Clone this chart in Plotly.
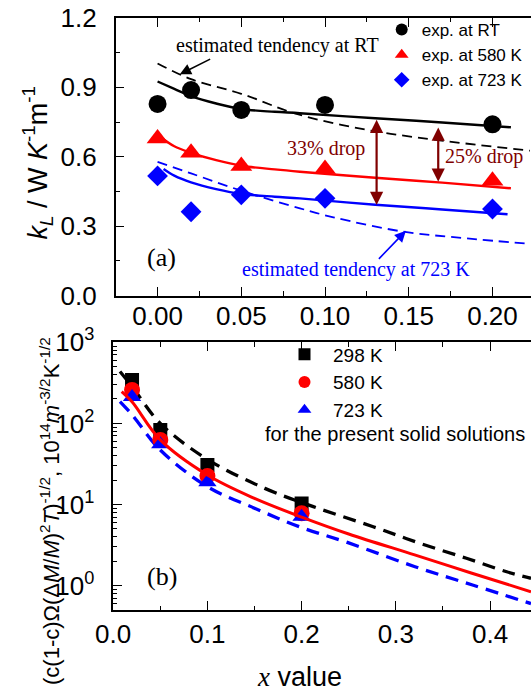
import plotly.graph_objects as go

W, H = 531, 698
SANS = "Liberation Sans"
SERIF = "Liberation Serif"
DARKRED = "#800000"

# ---------------- panel (a) data ----------------
x_exp = [0.0, 0.02, 0.05, 0.10, 0.20]
kL_RT = [0.828, 0.888, 0.802, 0.824, 0.740]
kL_580 = [0.679, 0.617, 0.560, 0.547, 0.496]
kL_723 = [0.517, 0.362, 0.435, 0.420, 0.374]

fit_x = [0.0, 0.01, 0.02, 0.035, 0.05, 0.07, 0.085, 0.13, 0.17, 0.211]
fit_RT = [0.925, 0.893, 0.862, 0.830, 0.806, 0.794, 0.788, 0.766, 0.748, 0.727]
fit_580 = [0.695, 0.645, 0.617, 0.585, 0.561, 0.545, 0.535, 0.509, 0.488, 0.4635]
fit723_x = [0.0036, 0.01, 0.02, 0.035, 0.05, 0.07, 0.085, 0.13, 0.17, 0.209]
fit_723 = [0.547, 0.518, 0.489, 0.460, 0.439, 0.427, 0.420, 0.392, 0.372, 0.351]

estRT_x = [0.0, 0.02, 0.05, 0.083, 0.125, 0.167, 0.2224]
est_RT = [1.003, 0.935, 0.872, 0.785, 0.716, 0.672, 0.626]
est723_x = [0.0, 0.02, 0.05, 0.085, 0.105, 0.1467, 0.1846, 0.2224]
est_723 = [0.578, 0.528, 0.453, 0.377, 0.338, 0.276, 0.247, 0.223]

# ---------------- panel (b) data ----------------
x_b = [0.02, 0.05, 0.10, 0.20]
v_298 = [344, 83, 30.7, 10.3]
v_580 = [259, 62.6, 22.5, 7.8]
v_723 = [212, 55.3, 18.8, 7.07]

c298_x = [0.0072, 0.02, 0.05, 0.10, 0.161, 0.2124, 0.276, 0.3257, 0.375, 0.4177, 0.4435]
c_298 = [436, 285, 100, 36, 15.8, 9.4, 5.32, 3.32, 2.17, 1.48, 1.23]
c580_x = [0.009, 0.02, 0.05, 0.10, 0.15, 0.20, 0.25, 0.32, 0.38, 0.4435]
c_580 = [247, 185, 62.6, 23.1, 11.9, 7.0, 4.33, 2.39, 1.43, 0.84]
c723_x = [0.0072, 0.02, 0.05, 0.10, 0.15, 0.198, 0.25, 0.3204, 0.3823, 0.4435]
c_723 = [186, 128, 47, 16.6, 9.0, 5.3, 3.36, 1.71, 1.01, 0.60]

log_tickvals = [1, 10, 100, 1000]
log_ticktext = ["10<sup>0</sup>", "10<sup>1</sup>", "10<sup>2</sup>", "10<sup>3</sup>"]
log_minor = [m * 10 ** e for e in range(-1, 3) for m in range(2, 10) if 0.5 <= m * 10 ** e < 1000]


def PX(px):
    return px / W


def PY(py):
    return 1 - py / H


fig = go.Figure()

# panel (a) curves
fig.add_trace(go.Scatter(x=estRT_x, y=est_RT, mode="lines", line=dict(color="black", width=1.8, dash="10px,6px", shape="spline"), showlegend=False, xaxis="x", yaxis="y"))
fig.add_trace(go.Scatter(x=est723_x, y=est_723, mode="lines", line=dict(color="#0000FF", width=1.8, dash="10px,6px", shape="spline"), showlegend=False, xaxis="x", yaxis="y"))
fig.add_trace(go.Scatter(x=fit_x, y=fit_RT, mode="lines", line=dict(color="black", width=2.4, shape="spline"), showlegend=False, xaxis="x", yaxis="y"))
fig.add_trace(go.Scatter(x=fit_x, y=fit_580, mode="lines", line=dict(color="#FF0000", width=2.4, shape="spline"), showlegend=False, xaxis="x", yaxis="y"))
fig.add_trace(go.Scatter(x=fit723_x, y=fit_723, mode="lines", line=dict(color="#0000FF", width=2.4, shape="spline"), showlegend=False, xaxis="x", yaxis="y"))

fig.add_trace(go.Scatter(x=x_exp, y=kL_RT, mode="markers", name="exp. at RT", marker=dict(symbol="circle", size=18, color="black"), legend="legend", xaxis="x", yaxis="y"))
fig.add_trace(go.Scatter(x=x_exp, y=kL_580, mode="markers", name="exp. at 580 K", marker=dict(symbol="triangle-up", size=19, color="#FF0000"), legend="legend", xaxis="x", yaxis="y"))
fig.add_trace(go.Scatter(x=x_exp, y=kL_723, mode="markers", name="exp. at 723 K", marker=dict(symbol="diamond", size=16, color="#0000FF"), legend="legend", xaxis="x", yaxis="y"))

# panel (b) curves
fig.add_trace(go.Scatter(x=c298_x, y=c_298, mode="lines", line=dict(color="black", width=3.3, dash="13px,8px", shape="spline"), showlegend=False, xaxis="x2", yaxis="y2"))
fig.add_trace(go.Scatter(x=c723_x, y=c_723, mode="lines", line=dict(color="#0000FF", width=3.3, dash="13px,8px", shape="spline"), showlegend=False, xaxis="x2", yaxis="y2"))

fig.add_trace(go.Scatter(x=x_b, y=v_298, mode="markers", name="298 K", marker=dict(symbol="square", size=14, color="black"), legend="legend2", xaxis="x2", yaxis="y2"))
fig.add_trace(go.Scatter(x=x_b, y=v_580, mode="markers", name="580 K", marker=dict(symbol="circle", size=16, color="#FF0000"), legend="legend2", xaxis="x2", yaxis="y2"))
fig.add_trace(go.Scatter(x=x_b, y=v_723, mode="markers", name="723 K", marker=dict(symbol="triangle-up", size=16, color="#0000FF"), legend="legend2", xaxis="x2", yaxis="y2"))
fig.add_trace(go.Scatter(x=c580_x, y=c_580, mode="lines", line=dict(color="#FF0000", width=3, shape="spline"), showlegend=False, xaxis="x2", yaxis="y2"))

tickfont = dict(family=SANS, size=26, color="black")
common = dict(showline=True, linecolor="black", linewidth=1.5, ticks="inside", tickcolor="black",
              tickwidth=1.2, ticklen=9, showgrid=False, zeroline=False, tickfont=tickfont, automargin=False)
minor_common = dict(ticks="inside", ticklen=4.5, tickcolor="black", tickwidth=1.2, showgrid=False)

fig.update_layout(
    template="none",
    width=W, height=H,
    margin=dict(l=0, r=0, t=0, b=0),
    paper_bgcolor="white", plot_bgcolor="white",
    xaxis=dict(domain=[PX(115.7), 1], range=[-0.025, 0.223], anchor="y", tickmode="linear", tick0=0, dtick=0.05,
               tickformat=".2f", mirror="ticks", minor=dict(dtick=0.025, tick0=0, **minor_common),
               ticklabelstandoff=-3, **common),
    yaxis=dict(domain=[PY(295.5), PY(17.9)], range=[0, 1.2], anchor="x", tickmode="linear", tick0=0, dtick=0.3,
               tickformat=".1f", minor=dict(dtick=0.15, tick0=0, **minor_common),
               ticklabelstandoff=12, **common),
    xaxis2=dict(domain=[PX(113.2), 1], range=[0, 0.4435], anchor="y2", tickmode="linear", tick0=0, dtick=0.1,
                tickformat=".1f", mirror="ticks", minor=dict(dtick=0.05, tick0=0, **minor_common),
                ticklabelstandoff=0, **common),
    yaxis2=dict(domain=[PY(610), PY(342.3)], type="log", range=[-0.301, 3], anchor="x2",
                tickmode="array", tickvals=log_tickvals, ticktext=log_ticktext,
                minor=dict(tickmode="array", tickvals=log_minor, **minor_common),
                ticklabelstandoff=12, **common),
    legend=dict(x=PX(381.7), y=PY(12), xanchor="left", yanchor="top", bgcolor="rgba(0,0,0,0)", borderwidth=0,
                font=dict(family=SANS, size=17, color="black"), itemsizing="constant", itemwidth=30),
    legend2=dict(x=PX(276), y=PY(335.5), xanchor="left", yanchor="top", bgcolor="rgba(0,0,0,0)", borderwidth=0,
                 font=dict(family=SANS, size=19, color="black"), itemsizing="constant", itemwidth=47),
    showlegend=True,
)


def label(px, py, text, font, **kw):
    d = dict(xref="paper", yref="paper", x=PX(px), y=PY(py), text=text, showarrow=False, font=font,
             xanchor="center", yanchor="middle")
    d.update(kw)
    return d


ann = []
serif20 = dict(family=SERIF, size=20, color="black")
ann.append(label(277, 46, "estimated tendency at RT", serif20))
ann.append(label(326.4, 148.3, "33% drop", dict(family=SERIF, size=20, color=DARKRED)))
ann.append(label(483.8, 156.7, "25% drop", dict(family=SERIF, size=20, color=DARKRED)))
ann.append(label(161, 257.3, "(a)", dict(family=SERIF, size=26, color="black")))
ann.append(label(355.8, 269.3, "estimated tendency at 723 K", dict(family=SERIF, size=20, color="#0000FF")))
ann.append(label(162, 576.7, "(b)", dict(family=SERIF, size=26, color="black")))
ann.append(label(394.5, 434, "for the present solid solutions", dict(family=SANS, size=20, color="black")))

# arrows (panel a)
ann.append(dict(xref="x", yref="y", axref="x", ayref="y", x=0.0133, y=0.956, ax=0.0323, ay=1.025, text="", showarrow=True,
                arrowhead=2, arrowsize=1.4, arrowwidth=1.6, arrowcolor="black", standoff=0))
ann.append(dict(xref="x", yref="y", axref="x", ayref="y", x=0.1483, y=0.280, ax=0.1313, ay=0.152, text="", showarrow=True,
                arrowhead=2, arrowsize=1.4, arrowwidth=1.6, arrowcolor="#0000FF", standoff=0))
ann.append(dict(xref="x", yref="y", axref="x", ayref="y", x=0.1308, y=0.391, ax=0.1308, ay=0.766, text="", showarrow=True,
                arrowhead=2, startarrowhead=2, arrowside="end+start", arrowsize=1.2, startarrowsize=1.2, arrowwidth=2.2,
                arrowcolor=DARKRED, standoff=0, startstandoff=0))
ann.append(dict(xref="x", yref="y", axref="x", ayref="y", x=0.1676, y=0.492, ax=0.1676, ay=0.733, text="", showarrow=True,
                arrowhead=2, startarrowhead=2, arrowside="end+start", arrowsize=1.2, startarrowsize=1.2, arrowwidth=2.2,
                arrowcolor=DARKRED, standoff=0, startstandoff=0))

# axis titles
ann.append(label(37, 162.5, "<i>k</i><sub><i>L</i></sub> / W <i>K</i><sup>-1</sup>m<sup>-1</sup>",
                 dict(family=SANS, size=27, color="black"), textangle=-90))
ann.append(label(50, 511, "(c(1-c)Ω(Δ<i>M</i>/<i>M</i>)<sup>2</sup><i>T</i>)<sup>-1/2</sup>, 10<sup>14</sup><i>m</i><sup>-3/2</sup>K<sup>-1/2</sup>",
                 dict(family=SANS, size=22, color="black"), textangle=-90))
ann.append(label(299.7, 676.7, "<span style=\"font-family:Liberation Serif\"><i>x</i></span> value",
                 dict(family=SANS, size=27, color="black")))

fig.update_layout(annotations=ann)

fig.write_html("out.html", config={"displayModeBar": False},
               post_script="document.body.style.margin='0';document.body.style.padding='0';")
